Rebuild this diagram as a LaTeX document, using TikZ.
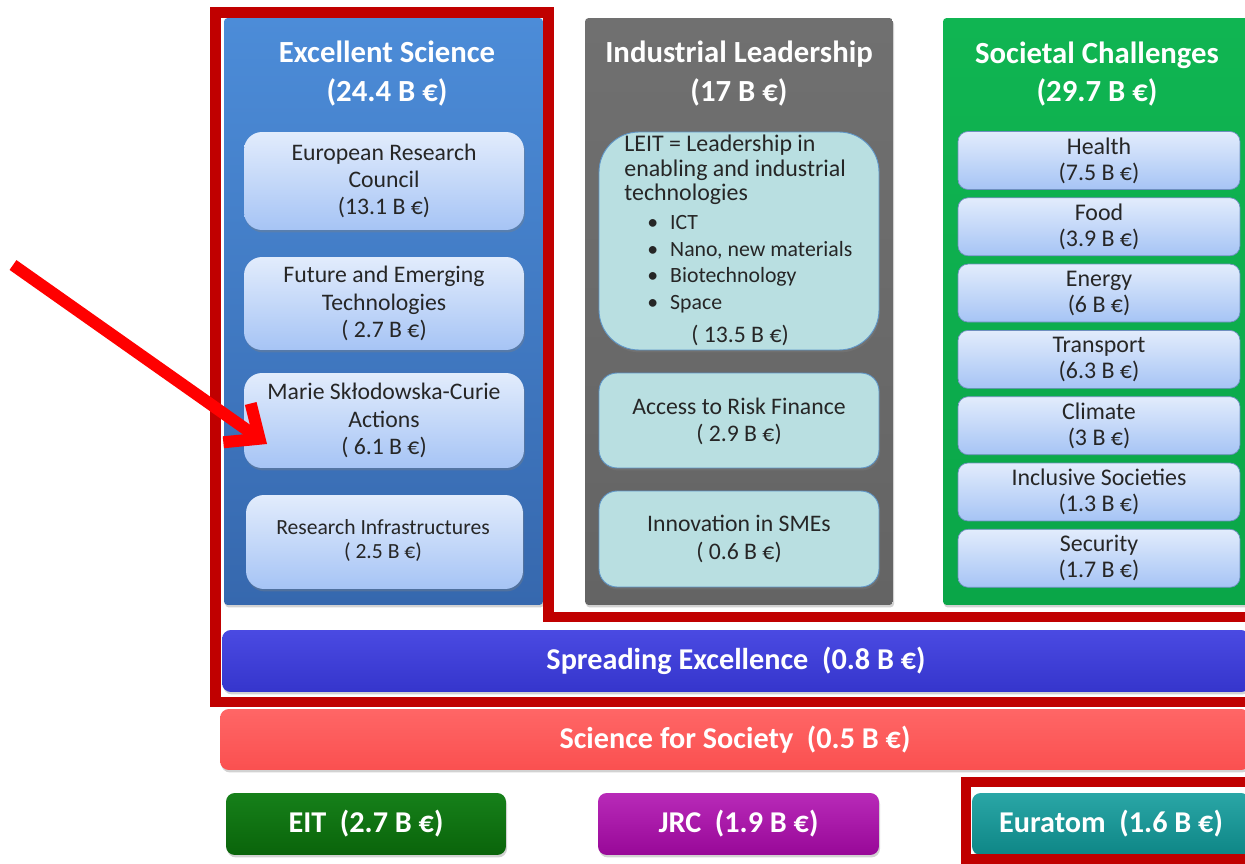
\documentclass[tikz,border=0pt]{standalone}
\usepackage{fontspec}
\setmainfont{Carlito}
\usetikzlibrary{arrows.meta,shadows}

\definecolor{frameRed}{HTML}{C00000}
\definecolor{arrowRed}{HTML}{FF0000}
\definecolor{esTop}{HTML}{4C8CD8}
\definecolor{esBot}{HTML}{3668AE}
\definecolor{ilTop}{HTML}{707070}
\definecolor{ilBot}{HTML}{646464}
\definecolor{scTop}{HTML}{10B552}
\definecolor{scBot}{HTML}{0AA648}
\definecolor{subTop}{HTML}{E2ECFC}
\definecolor{subBot}{HTML}{A6C4F5}
\definecolor{subEdge}{HTML}{6F8FBF}
\definecolor{leitFill}{HTML}{B9DFE1}
\definecolor{leitEdge}{HTML}{5F96C8}
\definecolor{spreadTop}{HTML}{4A4AE2}
\definecolor{spreadBot}{HTML}{3535CC}
\definecolor{sfsTop}{HTML}{FF6666}
\definecolor{sfsBot}{HTML}{FA5050}
\definecolor{eitTop}{HTML}{16801A}
\definecolor{eitBot}{HTML}{0A640A}
\definecolor{jrcTop}{HTML}{B82AB8}
\definecolor{jrcBot}{HTML}{980898}
\definecolor{euraTop}{HTML}{2AA6A6}
\definecolor{euraBot}{HTML}{0E8686}

\tikzset{
  soft/.style={drop shadow={opacity=0.35,shadow xshift=0.6pt,shadow yshift=-1.4pt}},
  pillar/.style={rounded corners=2pt,minimum height=11.74cm,inner sep=0pt,soft},
  ptitle/.style={text=white,align=center,font=\bfseries\fontsize{17.5}{22.1}\selectfont},
  subbox/.style={rounded corners=0.36cm,top color=subTop,bottom color=subBot,
    minimum width=5.6cm,inner sep=0pt,soft},
  subtext/.style={text=black!85,align=center,inner sep=0pt,font=\fontsize{13.5}{15.6}\selectfont},
  leitbox/.style={fill=leitFill,draw=leitEdge,line width=0.5pt,minimum width=5.6cm,
    inner sep=0pt,soft},
  chalbox/.style={rounded corners=0.2cm,top color=subTop,bottom color=subBot,
    draw=subEdge,line width=0.4pt,minimum width=5.64cm,minimum height=1.16cm,
    inner sep=0pt,text=black!85,align=center,font=\fontsize{13.6}{14.7}\selectfont},
  bar/.style={rounded corners=5pt,minimum height=1.24cm,inner sep=0pt,text=white,
    font=\bfseries\fontsize{17.2}{20}\selectfont,soft},
  redframe/.style={draw=frameRed,line width=0.21cm,line join=miter}
}

\begin{document}
\begin{tikzpicture}[x=0.02cm,y=-0.02cm]
  \clip (0,0) rectangle (1245,864);
  \fill[white] (0,0) rectangle (1245,864);

  \node[pillar,top color=esTop,bottom color=esBot,minimum width=6.38cm] (es) at (383.5,311.5) {};
  \node[pillar,top color=ilTop,bottom color=ilBot,minimum width=6.16cm] (il) at (739,311.5) {};
  \node[pillar,top color=scTop,bottom color=scBot,minimum width=6.14cm] (sc) at (1096.5,311.5) {};

  \node[ptitle] (estitle) at (387,73.5) {Excellent Science\\(24.4 B €)};
  \node[ptitle] (iltitle) at (739,73.5) {Industrial Leadership\\(17 B €)};
  \node[ptitle] (sctitle) at (1097,74) {Societal Challenges\\(29.7 B €)};

  \node[subbox,minimum height=1.96cm] (erc) at (384,181) {};
  \node[subtext] (erct) at (erc) {European Research\\Council\\(13.1 B €)};
  \node[subbox,minimum height=1.86cm] (fet) at (384,303.5) {};
  \node[subtext] (fett) at (fet) {Future and Emerging\\Technologies\\( 2.7 B €)};
  \node[subbox,minimum height=1.90cm] (msca) at (384,420.5) {};
  \node[subtext] (mscat) at (msca) {Marie Skłodowska-Curie\\Actions\\( 6.1 B €)};
  \node[subbox,minimum height=1.88cm,minimum width=5.54cm] (ri) at (384.5,542) {};
  \node[subtext,font=\fontsize{12.3}{14.2}\selectfont] (rit) at (383,540.5) {Research Infrastructures\\( 2.5 B €)};

  \node[leitbox,rounded corners=0.8cm,minimum height=4.36cm] (leit) at (739,241) {};
  \node[subtext,align=left,anchor=west,font=\fontsize{13.6}{13.9}\selectfont] (leitt) at (624,170)
    {LEIT = Leadership in\\enabling and industrial\\technologies};
  \node[subtext,align=left,anchor=west,font=\fontsize{12.4}{15.1}\selectfont] (leitb) at (647,264)
    {\textbullet\hspace{0.55em}ICT\\\textbullet\hspace{0.55em}Nano, new materials\\
     \textbullet\hspace{0.55em}Biotechnology\\\textbullet\hspace{0.55em}Space};
  \node[subtext] (leita) at (740,335) {( 13.5 B €)};
  \node[leitbox,rounded corners=0.36cm,minimum height=1.9cm] (risk) at (739,420.5) {};
  \node[subtext] (riskt) at (739,421.5) {Access to Risk Finance\\( 2.9 B €)};
  \node[leitbox,rounded corners=0.36cm,minimum height=1.92cm] (sme) at (739,539) {};
  \node[subtext] (smet) at (739,539) {Innovation in SMEs\\( 0.6 B €)};

  \foreach \i/\name/\amt in {0/Health/7.5, 1/Food/3.9, 2/Energy/6, 3/Transport/6.3,
      4/Climate/3, 5/Inclusive Societies/1.3, 6/Security/1.7} {
    \node[chalbox] (ch\i) at (1099,160.5+66.3*\i) {\name\\(\amt\ B €)};
  };

  \node[bar,top color=spreadTop,bottom color=spreadBot,minimum width=20.56cm] (spread) at (736,661) {Spreading Excellence\ \ (0.8 B €)};
  \node[bar,top color=sfsTop,bottom color=sfsBot,minimum width=20.6cm,minimum height=1.22cm] (sfs) at (735,739.5) {Science for Society\ \ (0.5 B €)};
  \node[bar,top color=eitTop,bottom color=eitBot,minimum width=5.6cm] (eit) at (366,824) {EIT\ \ (2.7 B €)};
  \node[bar,top color=jrcTop,bottom color=jrcBot,minimum width=5.62cm] (jrc) at (738.5,824) {JRC\ \ (1.9 B €)};
  \node[bar,top color=euraTop,bottom color=euraBot,minimum width=5.56cm] (eura) at (1111,824) {Euratom\ \ (1.6 B €)};

  \draw[redframe] (1270,617) -- (548.5,617) -- (548.5,12.5) -- (215.5,12.5) -- (215.5,702) -- (1270,702);
  \draw[redframe] (966,782) rectangle (1270,859);

  \coordinate (tail) at (13,265);
  \coordinate (tip) at (267,444);
  \draw[arrowRed,line width=0.24cm,-{Straight Barb[length=0.55cm,width=0.95cm]}] (tail) -- (tip);
\end{tikzpicture}
\end{document}
